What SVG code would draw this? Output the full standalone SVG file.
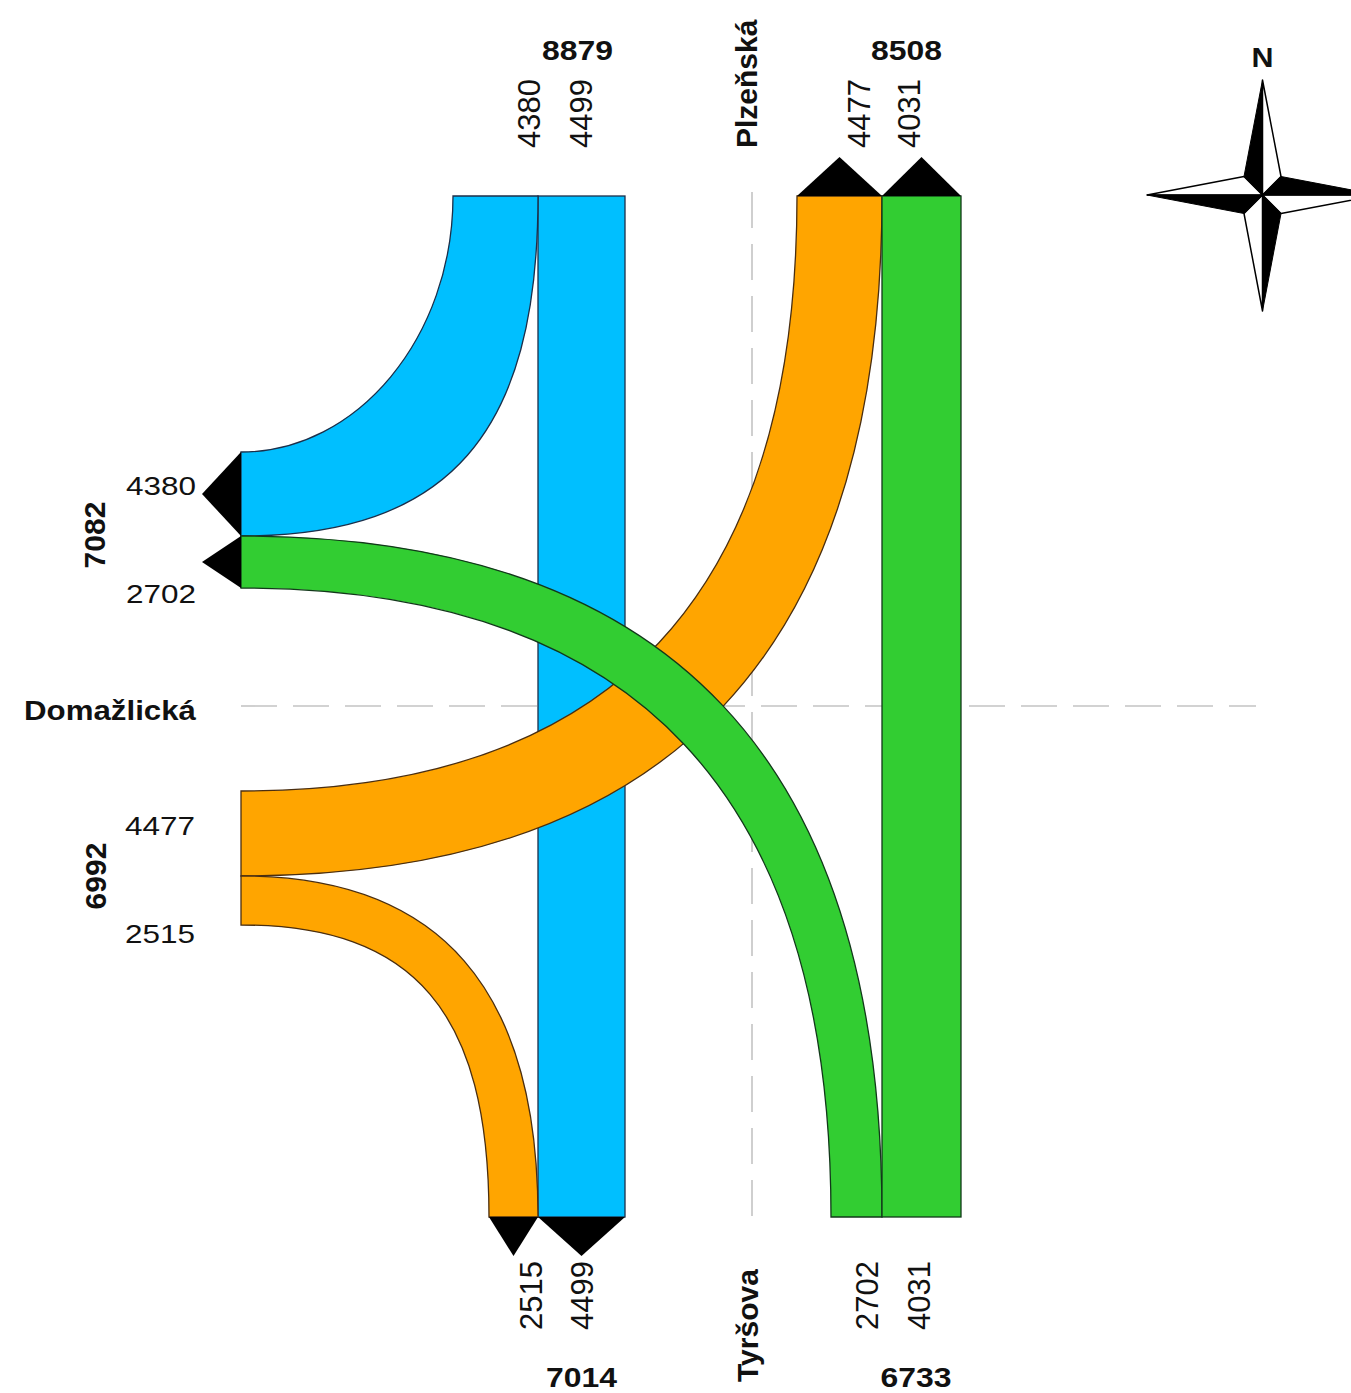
<svg xmlns="http://www.w3.org/2000/svg" width="1351" height="1393" viewBox="0 0 1351 1393">
<defs>
<style>
.bg{fill:#ffffff}
.guide{stroke:#c4c4c4;stroke-width:1.6;stroke-dasharray:36 16;fill:none}
.blue{fill:#00bfff;stroke:#1c2f4a;stroke-width:1.3}
.orange{fill:#ffa500;stroke:#4a2e10;stroke-width:1.3}
.green{fill:#32cd32;stroke:#12381a;stroke-width:1.3}
.arrow{fill:#000000}
.num{font-family:"Liberation Sans",Arial,sans-serif;font-size:31px;fill:#111}
.hnum{font-family:"Liberation Sans",Arial,sans-serif;font-size:26px;fill:#111}
.lbl{font-family:"Liberation Sans",Arial,sans-serif;font-size:30px;font-weight:bold;fill:#111}
.hlbl{font-family:"Liberation Sans",Arial,sans-serif;font-size:27px;font-weight:bold;fill:#111}
.cb{fill:#000;stroke:#000;stroke-width:1}
.cw{fill:#fff;stroke:#000;stroke-width:1.5;stroke-linejoin:round}
</style>
</defs>
<rect class="bg" x="0" y="0" width="1351" height="1393"/>
<g id="guides">
<line class="guide" x1="752" y1="192" x2="752" y2="1217"/>
<line class="guide" x1="241" y1="706" x2="1256" y2="706"/>
</g>
<g id="connectors">
<rect class="blue" x="538" y="196" width="87" height="1021"/>
<path class="blue" d="M453,196 C453,336.8 357.6,452 241,452 L241,536 C448.9,536 538,434 538,196 Z"/>
<path class="orange" d="M797,196 C797,594.7 613.5,791 241,791 L241,876 C670.5,876 882,651.6 882,196 Z"/>
<path class="orange" d="M241,876 C440,876 538,988.5 538,1217 L489,1217 C489,1012.6 414.6,925 241,925 Z"/>
<path class="green" d="M241,536 C670.5,536 882,760.7 882,1217 L831,1217 C831,795.6 636.3,588 241,588 Z"/>
<rect class="green" x="882" y="196" width="79" height="1021"/>
<polygon class="arrow" points="797,196 882,196 839.5,157"/>
<polygon class="arrow" points="882,196 961,196 921.5,157"/>
<polygon class="arrow" points="241,452 241,536 202,494"/>
<polygon class="arrow" points="241,536 241,588 202,562"/>
<polygon class="arrow" points="489,1217 538,1217 513.5,1256"/>
<polygon class="arrow" points="538,1217 625,1217 581.5,1256"/>
</g>
<g id="north">
<text class="hlbl" x="577.5" y="60" text-anchor="middle" textLength="71" lengthAdjust="spacingAndGlyphs">8879</text>
<text class="hlbl" x="906.5" y="60" text-anchor="middle" textLength="71" lengthAdjust="spacingAndGlyphs">8508</text>
<text class="lbl" transform="translate(757,148) rotate(-90)">Plzeňská</text>
<text class="num" transform="translate(540,148) rotate(-90)">4380</text>
<text class="num" transform="translate(592,148) rotate(-90)">4499</text>
<text class="num" transform="translate(870,148) rotate(-90)">4477</text>
<text class="num" transform="translate(920,148) rotate(-90)">4031</text>
</g>
<g id="south">
<text class="num" transform="translate(542,1330) rotate(-90)">2515</text>
<text class="num" transform="translate(593,1330) rotate(-90)">4499</text>
<text class="num" transform="translate(878,1330) rotate(-90)">2702</text>
<text class="num" transform="translate(930,1330) rotate(-90)">4031</text>
<text class="lbl" transform="translate(758,1382) rotate(-90)">Tyršova</text>
<text class="hlbl" x="581.5" y="1387" text-anchor="middle" textLength="71" lengthAdjust="spacingAndGlyphs">7014</text>
<text class="hlbl" x="916" y="1387" text-anchor="middle" textLength="71" lengthAdjust="spacingAndGlyphs">6733</text>
</g>
<g id="west">
<text class="hlbl" x="110" y="720" text-anchor="middle" textLength="172" lengthAdjust="spacingAndGlyphs">Domažlická</text>
<text class="hnum" x="161" y="495" text-anchor="middle" textLength="70" lengthAdjust="spacingAndGlyphs">4380</text>
<text class="hnum" x="161" y="603" text-anchor="middle" textLength="70" lengthAdjust="spacingAndGlyphs">2702</text>
<text class="hnum" x="160" y="835" text-anchor="middle" textLength="70" lengthAdjust="spacingAndGlyphs">4477</text>
<text class="hnum" x="160" y="943" text-anchor="middle" textLength="70" lengthAdjust="spacingAndGlyphs">2515</text>
<text class="lbl" transform="translate(105,535) rotate(-90)" text-anchor="middle">7082</text>
<text class="lbl" transform="translate(106,876) rotate(-90)" text-anchor="middle">6992</text>
</g>
<g id="compass">
<text class="hlbl" x="1262.5" y="67" text-anchor="middle" textLength="22" lengthAdjust="spacingAndGlyphs">N</text>
<polygon class="cw" points="1262.5,195 1262.5,80 1281,176.5"/>
<polygon class="cw" points="1262.5,195 1378,195 1281,213.5"/>
<polygon class="cw" points="1262.5,195 1262.5,311 1244,213.5"/>
<polygon class="cw" points="1262.5,195 1147,195 1244,176.5"/>
<polygon class="cb" points="1262.5,195 1262.5,80 1244,176.5"/>
<polygon class="cb" points="1262.5,195 1378,195 1281,176.5"/>
<polygon class="cb" points="1262.5,195 1262.5,311 1281,213.5"/>
<polygon class="cb" points="1262.5,195 1147,195 1244,213.5"/>
</g>
</svg>
